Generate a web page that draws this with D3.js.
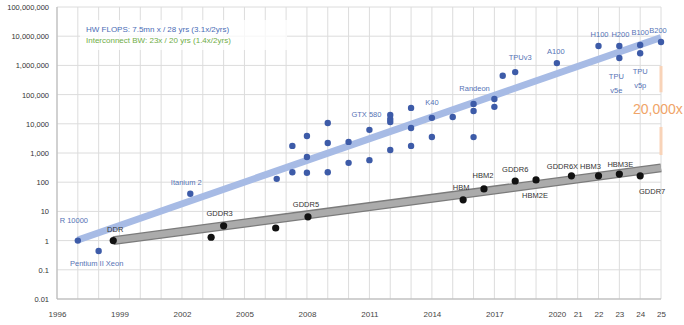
<!DOCTYPE html>
<html>
<head>
<meta charset="utf-8">
<script src="https://cdn.jsdelivr.net/npm/d3@7"></script>
<style>
  body { margin: 0; background: #fff; }
  svg { display: block; font-family: "Liberation Sans", Arial, sans-serif; }
</style>
</head>
<body>
<div id="chart"></div>
<script>
// HW FLOPS points (blue), one entry per chip, "" when the point has no label
const flopsYears = [1997, 1998, 2002.4, 2006.55, 2007.3, 2007.3, 2008, 2008, 2008, 2009, 2009, 2009,
  2010, 2010, 2011, 2011, 2012, 2012, 2012, 2012, 2013, 2013, 2013, 2014, 2014, 2015, 2016, 2016, 2016,
  2017, 2017, 2017.4, 2018, 2020, 2022, 2023, 2023, 2024, 2024, 2025];
const flopsValues = [1, 0.44, 40, 130, 220, 1750, 210, 730, 3800, 220, 2200, 10700,
  460, 2400, 570, 6200, 1260, 11500, 14500, 20000, 1750, 7200, 35000, 3550, 16000, 17000, 3500, 27500, 48000,
  38000, 71000, 440000, 590000, 1.2e6, 4.6e6, 4.6e6, 1.8e6, 5e6, 2.6e6, 6.3e6];
const flopsNames = ['R 10000', 'Pentium II Xeon', 'Itanium 2', '', '', '', '', '', '', '', '', '',
  '', '', '', 'GTX 580', '', '', '', '', '', '', '', '', 'K40', '', '', '', 'Randeon',
  '', '', '', 'TPUv3', 'A100', 'H100', 'H200', 'TPU|v5e', 'B100', 'TPU|v5p', 'B200'];

// interconnect / memory bandwidth points (black)
const bwYears = [1998.7, 2003.4, 2004, 2006.5, 2008.05, 2015.5, 2016.5, 2018, 2019, 2020.7, 2022, 2023, 2024];
const bwValues = [1, 1.3, 3.2, 2.7, 6.5, 25, 59, 110, 120, 165, 165, 190, 165];
const bwNames = ['DDR', '', 'GDDR3', '', 'GDDR5', 'HBM', 'HBM2', 'GDDR6', 'HBM2E', 'GDDR6X', 'HBM3', 'HBM3E', 'GDDR7'];

// fitted trend lines
const flopsTrendYears = [1997, 2025];
const flopsTrendValues = [1.05, 9e6];
const bwTrendYears = [1998.7, 2025];
const bwTrendValues = [1, 310];

// axis ticks
const yearTicks = [1996, 1999, 2002, 2005, 2008, 2011, 2014, 2017, 2020, 2021, 2022, 2023, 2024, 2025];
const yearTickLabels = ['1996', '1999', '2002', '2005', '2008', '2011', '2014', '2017', '2020', '21', '22', '23', '24', '25'];
const valueTicks = [0.01, 0.1, 1, 10, 100, 1e3, 1e4, 1e5, 1e6, 1e7, 1e8];
const valueTickLabels = ['0.01', '0.1', '1', '10', '100', '1,000', '10,000', '100,000', '1,000,000', '10,000,000', '100,000,000'];

// legend text
const legendLines = ['HW FLOPS: 7.5mn x / 28 yrs (3.1x/2yrs)', 'Interconnect BW: 23x / 20 yrs (1.4x/2yrs)'];

// gap annotation at the right edge
const gapYear = 2025;
const gapSegments = [[9.5e5, 1.2e5], [7800, 850]];
const gapValue = 30000;
const gapLabel = '20,000x';

// label offsets (px) from their point, text is centred on the offset
const labelOffsets = {
  'R 10000': [-4, -20], 'Pentium II Xeon': [-2, 13], 'Itanium 2': [-4, -11],
  'GTX 580': [-3, -15], 'K40': [0, -15], 'Randeon': [1, -15], 'TPUv3': [5, -14],
  'A100': [-1, -11], 'H100': [1, -11], 'H200': [1, -11], 'B100': [0, -12], 'B200': [-3, -11],
  'TPU|v5e': [-3, 19], 'TPU|v5p': [0, 19],
  'DDR': [2, -11], 'GDDR3': [-4, -12], 'GDDR5': [-2, -12], 'HBM': [-2, -12], 'HBM2': [-1, -13],
  'GDDR6': [0, -11], 'HBM2E': [-1, 16], 'GDDR6X': [-9, -9], 'HBM3': [-8, -9], 'HBM3E': [1, -9],
  'GDDR7': [12, 16]
};

/**
 * class for the log scale scaling chart
 */
class ScalingChart {

  constructor(_config) {
    this.config = {
      parentElement: _config.parentElement,
      width: 684,
      height: 325,
      margin: { left: 57, right: 23, top: 7, bottom: 26 }
    };
    this.initVis();
  }

  initVis() {
    let vis = this;
    const m = vis.config.margin;

    vis.svg = d3.select(vis.config.parentElement).append('svg')
      .attr('width', vis.config.width)
      .attr('height', vis.config.height);

    vis.x = d3.scaleLinear().domain([1996, 2025]).range([m.left, vis.config.width - m.right]);
    vis.y = d3.scaleLog().domain([0.01, 1e8]).range([vis.config.height - m.bottom, m.top]);

    // gridlines, one per year and one per decade
    const gridYears = d3.range(1996, 2026);
    vis.svg.append('g').selectAll('line')
      .data(gridYears)
      .join('line')
      .attr('x1', d => vis.x(d)).attr('x2', d => vis.x(d))
      .attr('y1', vis.y(1e8)).attr('y2', vis.y(0.01))
      .attr('stroke', '#dcdcdc').attr('stroke-width', 1);

    vis.svg.append('g').selectAll('line')
      .data(valueTicks)
      .join('line')
      .attr('x1', vis.x(1996)).attr('x2', vis.x(2025))
      .attr('y1', d => vis.y(d)).attr('y2', d => vis.y(d))
      .attr('stroke', '#dcdcdc').attr('stroke-width', 1);

    // axes lines
    vis.svg.append('line')
      .attr('x1', vis.x(1996)).attr('x2', vis.x(1996))
      .attr('y1', vis.y(1e8)).attr('y2', vis.y(0.01))
      .attr('stroke', '#b5b5b5');
    vis.svg.append('line')
      .attr('x1', vis.x(1996)).attr('x2', vis.x(2025))
      .attr('y1', vis.y(0.01)).attr('y2', vis.y(0.01))
      .attr('stroke', '#b5b5b5');

    // tick labels
    const yAxis = d3.axisLeft(vis.y).tickValues(valueTicks)
      .tickFormat((d, i) => valueTickLabels[i]).tickSize(0).tickPadding(8);
    const gy = vis.svg.append('g').attr('transform', `translate(${m.left},0)`).call(yAxis);
    gy.select('.domain').remove();
    gy.selectAll('text').attr('font-size', '7.5px').attr('fill', '#333').attr('font-family', null);

    const xAxis = d3.axisBottom(vis.x).tickValues(yearTicks)
      .tickFormat((d, i) => yearTickLabels[i]).tickSize(0).tickPadding(12);
    const gx = vis.svg.append('g').attr('transform', `translate(0,${vis.y(0.01)})`).call(xAxis);
    gx.select('.domain').remove();
    gx.selectAll('text').attr('font-size', '8px').attr('fill', '#444').attr('font-family', null);

    // legend box over the grid
    vis.svg.append('rect')
      .attr('x', 80).attr('y', 20).attr('width', 207).attr('height', 30)
      .attr('fill', '#fff').attr('opacity', 0.75);
    vis.svg.append('g').selectAll('text')
      .data(legendLines)
      .join('text')
      .attr('x', 86)
      .attr('y', (d, i) => 30 + i * 11)
      .attr('dominant-baseline', 'middle')
      .attr('font-size', '8px')
      .attr('fill', (d, i) => i === 0 ? '#4a6cb6' : '#70ad47')
      .text(d => d);

    // trend bands
    const line = d3.line().x(d => vis.x(d[0])).y(d => vis.y(d[1]));
    const flopsTrend = flopsTrendYears.map((yr, i) => [yr, flopsTrendValues[i]]);
    const bwTrend = bwTrendYears.map((yr, i) => [yr, bwTrendValues[i]]);

    vis.svg.append('path').datum(flopsTrend)
      .attr('d', line).attr('fill', 'none')
      .attr('stroke', '#a7bbe5').attr('stroke-width', 7);

    vis.svg.append('path').datum(bwTrend)
      .attr('d', line).attr('fill', 'none')
      .attr('stroke', '#7b7b7b').attr('stroke-width', 9);
    vis.svg.append('path').datum(bwTrend)
      .attr('d', line).attr('fill', 'none')
      .attr('stroke', '#ababab').attr('stroke-width', 6.5);

    // points
    const flops = flopsYears.map((yr, i) => ({ year: yr, value: flopsValues[i], name: flopsNames[i] }));
    const bw = bwYears.map((yr, i) => ({ year: yr, value: bwValues[i], name: bwNames[i] }));

    vis.svg.append('g').selectAll('circle')
      .data(flops)
      .join('circle')
      .attr('cx', d => vis.x(d.year))
      .attr('cy', d => vis.y(d.value))
      .attr('r', 3.2)
      .attr('fill', '#3d5ba8');

    vis.svg.append('g').selectAll('circle')
      .data(bw)
      .join('circle')
      .attr('cx', d => vis.x(d.year))
      .attr('cy', d => vis.y(d.value))
      .attr('r', 3.6)
      .attr('fill', '#111');

    // point labels
    vis.drawLabels(flops.filter(d => d.name), '#5673b5');
    vis.drawLabels(bw.filter(d => d.name), '#333');

    // gap bracket and text
    vis.svg.append('g').selectAll('line')
      .data(gapSegments)
      .join('line')
      .attr('x1', vis.x(gapYear)).attr('x2', vis.x(gapYear))
      .attr('y1', d => vis.y(d[0])).attr('y2', d => vis.y(d[1]))
      .attr('stroke', '#f8d3b8').attr('stroke-width', 3);

    vis.svg.append('text')
      .attr('x', vis.x(gapYear) - 28)
      .attr('y', vis.y(gapValue))
      .attr('dominant-baseline', 'middle')
      .attr('font-size', '14px')
      .attr('fill', '#f0a468')
      .text(gapLabel);
  }

  /**
   * draws centred text labels next to points, "|" splits lines
   */
  drawLabels(points, color) {
    let vis = this;
    const g = vis.svg.append('g');
    points.forEach(d => {
      const off = labelOffsets[d.name] || [0, -10];
      const lines = d.name.split('|');
      lines.forEach((t, i) => {
        g.append('text')
          .attr('x', vis.x(d.year) + off[0])
          .attr('y', vis.y(d.value) + off[1] + i * 14)
          .attr('text-anchor', 'middle')
          .attr('dominant-baseline', 'middle')
          .attr('font-size', '7.5px')
          .attr('fill', color)
          .text(t);
      });
    });
  }
}

new ScalingChart({ parentElement: '#chart' });
</script>
</body>
</html>
